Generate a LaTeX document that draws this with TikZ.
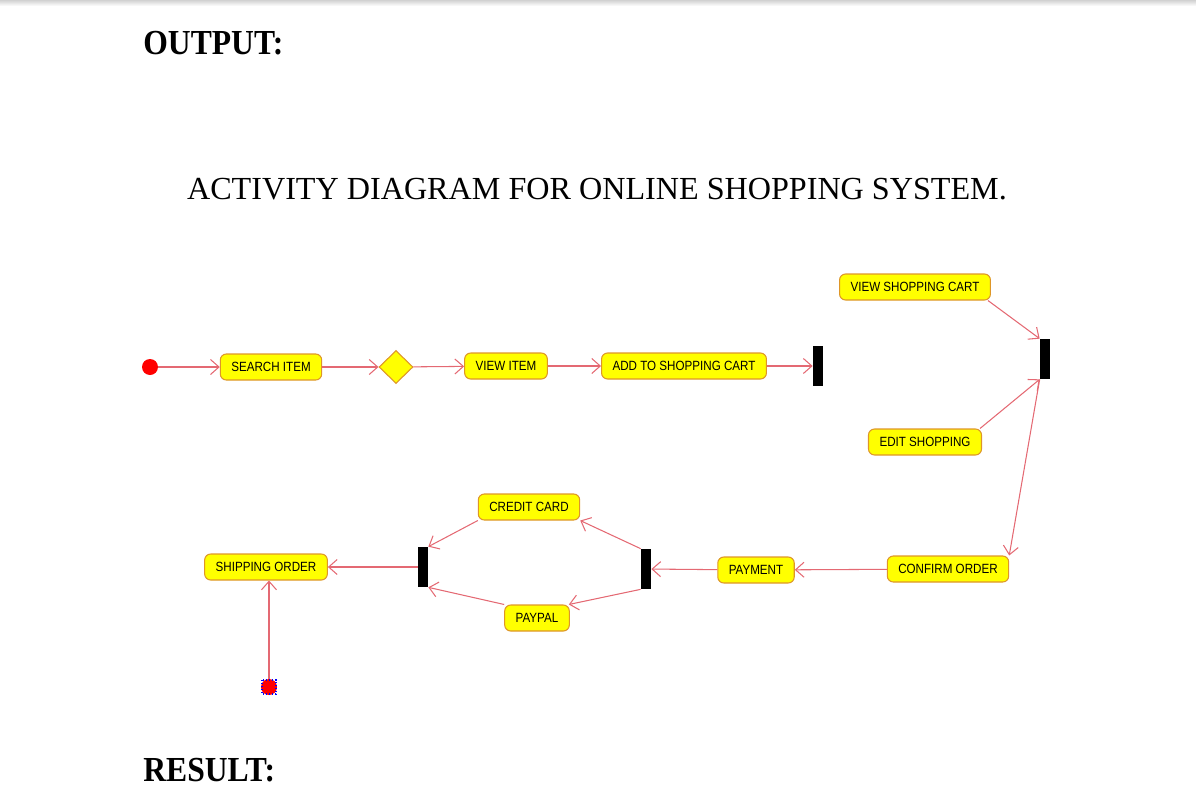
\documentclass[tikz,border=0pt]{standalone}
\usepackage{fontspec}
\setmainfont{Liberation Serif}
\newfontfamily\boxfont[FakeStretch=0.87]{Liberation Sans}
\newfontfamily\headfont[FakeStretch=0.9]{Liberation Serif}
\usetikzlibrary{arrows.meta,shapes.geometric}
\definecolor{actyellow}{RGB}{255,255,0}
\definecolor{actborder}{RGB}{222,150,40}
\definecolor{flowred}{RGB}{228,105,115}
\begin{document}
\begin{tikzpicture}[x=0.02cm,y=-0.02cm,
  activity/.style={draw=actborder,fill=actyellow,line width=0.6pt,rounded corners=0.12cm,
    minimum height=0.52cm,inner xsep=0.22cm,inner ysep=0pt,
    font=\boxfont\fontsize{7.6}{8}\selectfont},
  bar/.style={fill=black,draw=none,minimum width=0.2cm,minimum height=0.8cm,inner sep=0pt},
  flow/.style={draw=flowred,line width=0.6pt,-{Straight Barb[length=0.17cm,width=0.3cm]}},
  heading/.style={anchor=base west,inner sep=0pt,font=\headfont\bfseries\fontsize{20}{22}\selectfont}]
\useasboundingbox (0,0) rectangle (1196,801);
\shade[top color=black!18,bottom color=white] (0,0) rectangle (1196,6);

\node[heading] (output) at (143,54) {OUTPUT:};
\node[heading] (result) at (143,781) {RESULT:};
\node[anchor=base,inner sep=0pt,font=\fontsize{18.3}{20}\selectfont] (title) at (597,199)
  {ACTIVITY DIAGRAM FOR ONLINE SHOPPING SYSTEM.};

% top row
\node[circle,fill=red,minimum size=0.32cm,inner sep=0pt] (start) at (150,367) {};
\node[activity] (search) at (271,367) {SEARCH ITEM};
\node[diamond,draw=actborder,fill=actyellow,line width=0.6pt,minimum width=0.68cm,minimum height=0.66cm,inner sep=0pt] (decide) at (396,367) {};
\node[activity] (viewitem) at (506,366) {VIEW ITEM};
\node[activity] (addcart) at (684,366) {ADD TO SHOPPING CART};
\node[bar] (fork1) at (818,366) {};

% right side
\node[activity] (viewcart) at (915,287) {VIEW SHOPPING CART};
\node[bar] (fork2) at (1045,359) {};
\node[activity] (editshop) at (925,442) {EDIT SHOPPING};
\node[activity] (confirm) at (948,569) {CONFIRM ORDER};

% bottom row
\node[activity] (payment) at (756,570) {PAYMENT};
\node[bar] (fork3) at (646,569) {};
\node[activity] (credit) at (529,507) {CREDIT CARD};
\node[activity] (paypal) at (537,618) {PAYPAL};
\node[bar] (fork4) at (423,567) {};
\node[activity] (shipping) at (266,567) {SHIPPING ORDER};
\node[circle,fill=red,minimum size=0.32cm,inner sep=0pt] (stop) at (269,687) {};
\draw[blue,densely dotted,line width=0.7pt] (262,680) rectangle (276,694);

\draw[flow] (start) -- (search);
\draw[flow] (search) -- (decide);
\draw[flow] (decide) -- (viewitem);
\draw[flow] (viewitem) -- (addcart);
\draw[flow] (addcart) -- (fork1);

\draw[flow] ([xshift=-0.06cm]viewcart.south east) -- (fork2.north west);
\draw[flow] ([xshift=-0.04cm]editshop.north east) -- (fork2.south west);
\draw[flow] (fork2.south west) -- (confirm.north east);

\draw[flow] (confirm) -- (payment);
\draw[flow] (payment) -- (fork3);
\draw[flow] (fork3.north west) -- (credit.south east);
\draw[flow] (fork3.south west) -- ([xshift=-0.02cm]paypal.north east);
\draw[flow] (credit.south west) -- (fork4.north east);
\draw[flow] (paypal.north west) -- (fork4.south east);
\draw[flow] (fork4) -- (shipping);
\draw[flow] (stop.north) -- (stop.north |- shipping.south);

\end{tikzpicture}
\end{document}
